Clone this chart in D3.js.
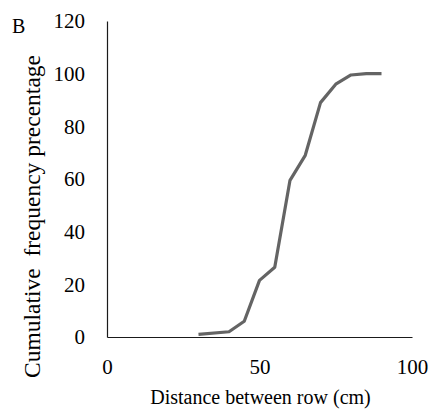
<!DOCTYPE html>
<html>
<head>
<meta charset="utf-8">
<script src="https://cdn.jsdelivr.net/npm/d3@7"></script>
<style>
  html, body { margin: 0; padding: 0; background: #fff; }
  svg { display: block; }
</style>
</head>
<body>
<svg id="chart" width="431" height="411"></svg>
<script>
// Cumulative frequency of distance between rows
const distance = [30, 40, 45, 50, 55, 60, 65, 70, 75, 80, 85, 90];
const cumulative = [1, 2, 6, 21.5, 26.5, 59.5, 69, 89, 96, 99.5, 100, 100];
const xTicks = [0, 50, 100];
const yTicks = [0, 20, 40, 60, 80, 100, 120];

const FONT = "Liberation Serif";
const svg = d3.select("#chart");
const margin = { left: 107, right: 19, top: 21, bottom: 74 };
const W = 431, H = 411;

const x = d3.scaleLinear().domain([0, 100]).range([margin.left, W - margin.right]);
const y = d3.scaleLinear().domain([0, 120]).range([H - margin.bottom, margin.top]);

function styleAxis(g) {
  g.select(".domain").attr("stroke", "#1a1a1a").attr("stroke-width", 1.2);
  g.selectAll(".tick text")
    .attr("fill", "#000")
    .attr("font-family", FONT)
    .attr("font-size", 21)
    .style("font-family", FONT);
}

// X axis
svg.append("g")
  .attr("transform", `translate(0,${y(0)})`)
  .call(d3.axisBottom(x).tickValues(xTicks).tickSize(0).tickPadding(22).tickFormat(d3.format("d")))
  .call(styleAxis);

// Y axis
svg.append("g")
  .attr("transform", `translate(${x(0)},0)`)
  .call(d3.axisLeft(y).tickValues(yTicks).tickSize(0).tickPadding(22).tickFormat(d3.format("d")))
  .call(styleAxis);

// Cumulative curve
const line = d3.line().x((d, i) => x(distance[i])).y(d => y(d));
svg.append("path")
  .datum(cumulative)
  .attr("d", line)
  .attr("fill", "none")
  .attr("stroke", "#646464")
  .attr("stroke-width", 3.2)
  .attr("stroke-linejoin", "round");

// Axis titles
svg.append("text")
  .attr("x", x(50) + 1)
  .attr("y", 404)
  .attr("text-anchor", "middle")
  .attr("font-family", FONT)
  .attr("font-size", 20)
  .text("Distance between row (cm)");

svg.append("text")
  .attr("transform", "translate(40,216.5) rotate(-90)")
  .attr("text-anchor", "middle")
  .attr("font-family", FONT)
  .attr("font-size", 23.5)
  .attr("xml:space", "preserve")
  .style("white-space", "pre")
  .text("Cumulative  frequency precentage");

// Panel letter
svg.append("text")
  .attr("x", 12)
  .attr("y", 33)
  .attr("font-family", FONT)
  .attr("font-size", 20)
  .text("B");
</script>
</body>
</html>
